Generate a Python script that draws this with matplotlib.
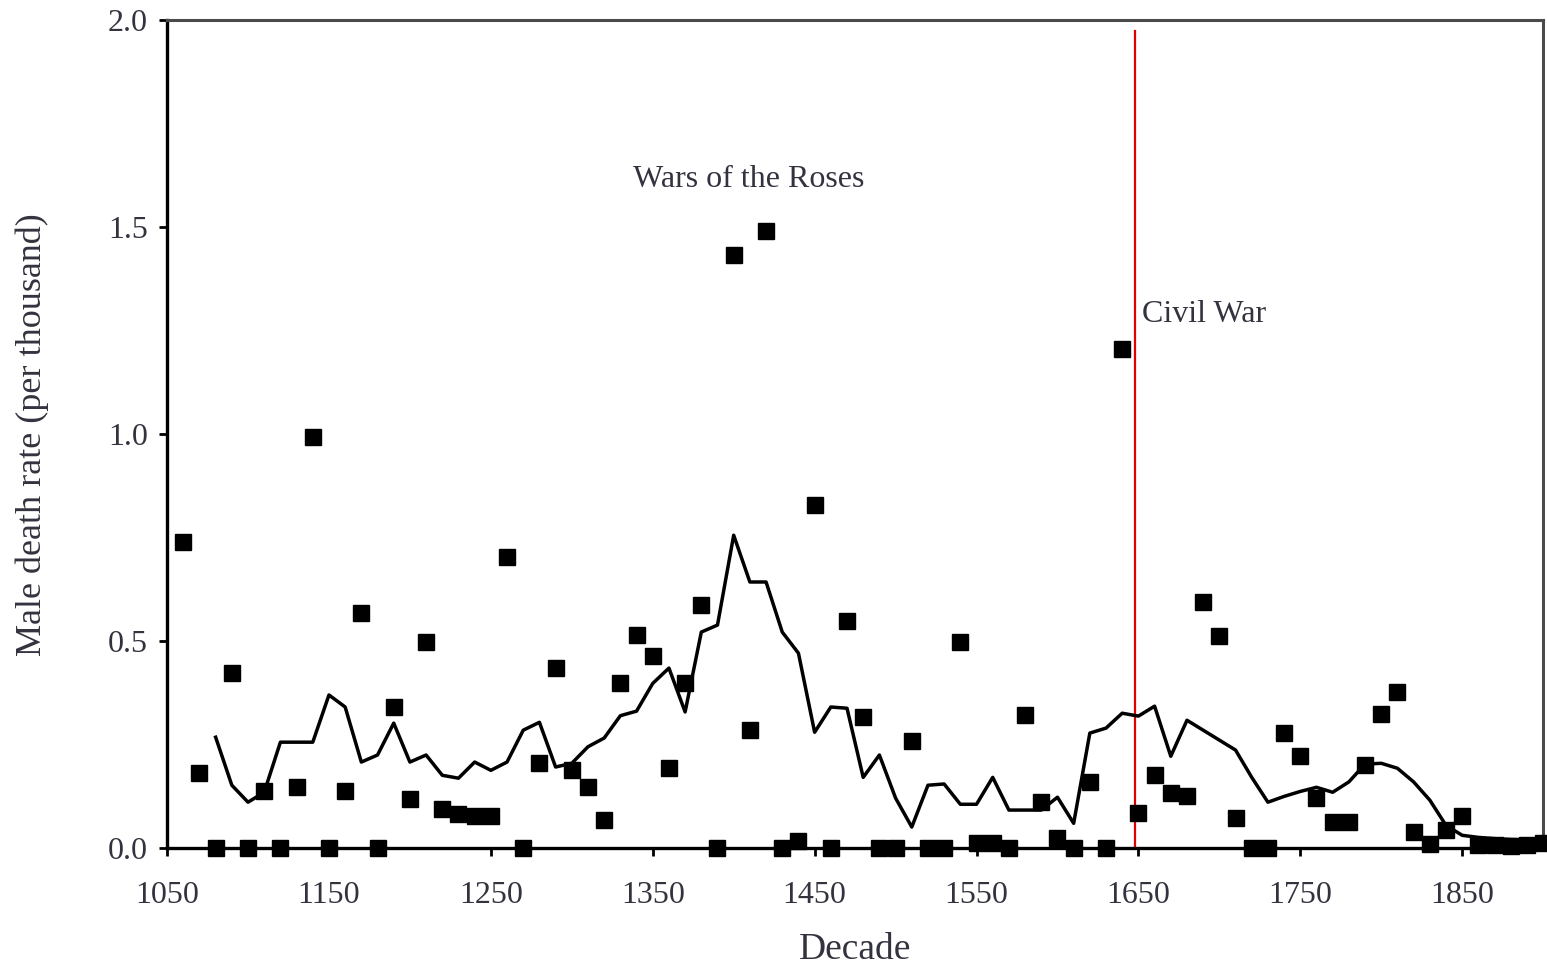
import numpy as np
import matplotlib.pyplot as plt

# Decadal male death rate (per thousand), one square per decade
decades = [1060, 1070, 1080, 1090, 1100, 1110, 1120, 1130, 1140, 1150,
           1160, 1170, 1180, 1190, 1200, 1210, 1220, 1230, 1240, 1250,
           1260, 1270, 1280, 1290, 1300, 1310, 1320, 1330, 1340, 1350,
           1360, 1370, 1380, 1390, 1400, 1410, 1420, 1430, 1440, 1450,
           1460, 1470, 1480, 1490, 1500, 1510, 1520, 1530, 1540, 1550,
           1560, 1570, 1580, 1590, 1600, 1610, 1620, 1630, 1640, 1650,
           1660, 1670, 1680, 1690, 1700, 1710, 1720, 1730, 1740, 1750,
           1760, 1770, 1780, 1790, 1800, 1810, 1820, 1830, 1840, 1850,
           1860, 1870, 1880, 1890, 1900]
death_rate = [0.739, 0.181, 0.0, 0.423, 0.0, 0.138, 0.0, 0.147, 0.993, 0.0,
              0.138, 0.568, 0.0, 0.341, 0.118, 0.498, 0.094, 0.082, 0.077, 0.077,
              0.703, 0.0, 0.205, 0.435, 0.19, 0.147, 0.068, 0.40, 0.514, 0.464,
              0.193, 0.40, 0.587, 0.0, 1.432, 0.285, 1.49, 0.0, 0.017, 0.828,
              0.0, 0.548, 0.316, 0.0, 0.0, 0.258, 0.0, 0.0, 0.498, 0.012,
              0.012, 0.0, 0.321, 0.111, 0.024, 0.0, 0.159, 0.0, 1.205, 0.085,
              0.176, 0.133, 0.126, 0.594, 0.512, 0.072, 0.0, 0.0, 0.278, 0.222,
              0.121, 0.063, 0.063, 0.20, 0.324, 0.377, 0.039, 0.01, 0.043, 0.077,
              0.007, 0.007, 0.004, 0.007, 0.012]

# Smoothed trend line
trend_decades = [1080, 1090, 1100, 1110, 1120, 1130, 1140, 1150, 1160, 1170,
                 1180, 1190, 1200, 1210, 1220, 1230, 1240, 1250, 1260, 1270,
                 1280, 1290, 1300, 1310, 1320, 1330, 1340, 1350, 1360, 1370,
                 1380, 1390, 1400, 1410, 1420, 1430, 1440, 1450, 1460, 1470,
                 1480, 1490, 1500, 1510, 1520, 1530, 1540, 1550, 1560, 1570,
                 1580, 1590, 1600, 1610, 1620, 1630, 1640, 1650, 1660, 1670,
                 1680, 1690, 1700, 1710, 1720, 1730, 1740, 1750, 1760, 1770,
                 1780, 1790, 1800, 1810, 1820, 1830, 1840, 1850, 1860, 1870,
                 1880, 1890, 1900]
trend = [0.268, 0.152, 0.111, 0.135, 0.256, 0.256, 0.256, 0.37, 0.341, 0.208,
         0.225, 0.302, 0.208, 0.225, 0.176, 0.169, 0.208, 0.188, 0.208, 0.285,
         0.304, 0.196, 0.205, 0.245, 0.266, 0.32, 0.331, 0.398, 0.435, 0.329,
         0.522, 0.539, 0.756, 0.643, 0.643, 0.522, 0.471, 0.28, 0.341, 0.338,
         0.171, 0.225, 0.121, 0.051, 0.152, 0.155, 0.106, 0.106, 0.171, 0.092,
         0.092, 0.092, 0.123, 0.06, 0.278, 0.29, 0.326, 0.319, 0.343, 0.222,
         0.309, 0.285, 0.261, 0.237, 0.171, 0.111, 0.125, 0.137, 0.147, 0.135,
         0.16, 0.203, 0.205, 0.193, 0.16, 0.116, 0.055, 0.031, 0.026, 0.023,
         0.021, 0.02, 0.02]

civil_war = 1648
text_col = "#33333f"

plt.rcParams["font.family"] = ["Liberation Serif", "DejaVu Serif"]

fig = plt.figure(figsize=(15.47, 9.66), dpi=100)
ax = fig.add_axes([0.108, 0.122, 0.8895, 0.857])

ax.plot(trend_decades, trend, color="black", lw=2.5, zorder=3)
ax.plot(decades, death_rate, linestyle="none", marker="s", ms=11.5,
        color="black", zorder=4, clip_on=False)
ax.plot([civil_war, civil_war], [0, 1.975], color="#e00000", lw=1.6, zorder=2)

ax.text(1409, 1.615, "Wars of the Roses", ha="center", va="center",
        fontsize=23, color=text_col)
ax.text(1652, 1.29, "Civil War", ha="left", va="center",
        fontsize=23, color=text_col)

ax.set_xlim(1050, 1900)
ax.set_ylim(0, 2.0)
ax.set_xticks(np.arange(1050, 1900, 100))
ax.set_yticks([0.0, 0.5, 1.0, 1.5, 2.0])
ax.set_yticklabels(["0.0", "0.5", "1.0", "1.5", "2.0"])
ax.tick_params(axis="both", direction="out", length=6, width=2,
               labelsize=23, labelcolor=text_col)
ax.tick_params(axis="x", pad=18)
ax.tick_params(axis="y", pad=8)

for side in ("left", "bottom"):
    ax.spines[side].set_linewidth(2.4)
    ax.spines[side].set_color("black")
for side in ("top", "right"):
    ax.spines[side].set_linewidth(2.2)
    ax.spines[side].set_color("#4a4a4a")

ax.set_xlabel("Decade", fontsize=27, color=text_col, labelpad=16)
ax.set_ylabel("Male death rate (per thousand)", fontsize=26, color=text_col,
              labelpad=42)

fig.savefig("out.png", dpi=100)
